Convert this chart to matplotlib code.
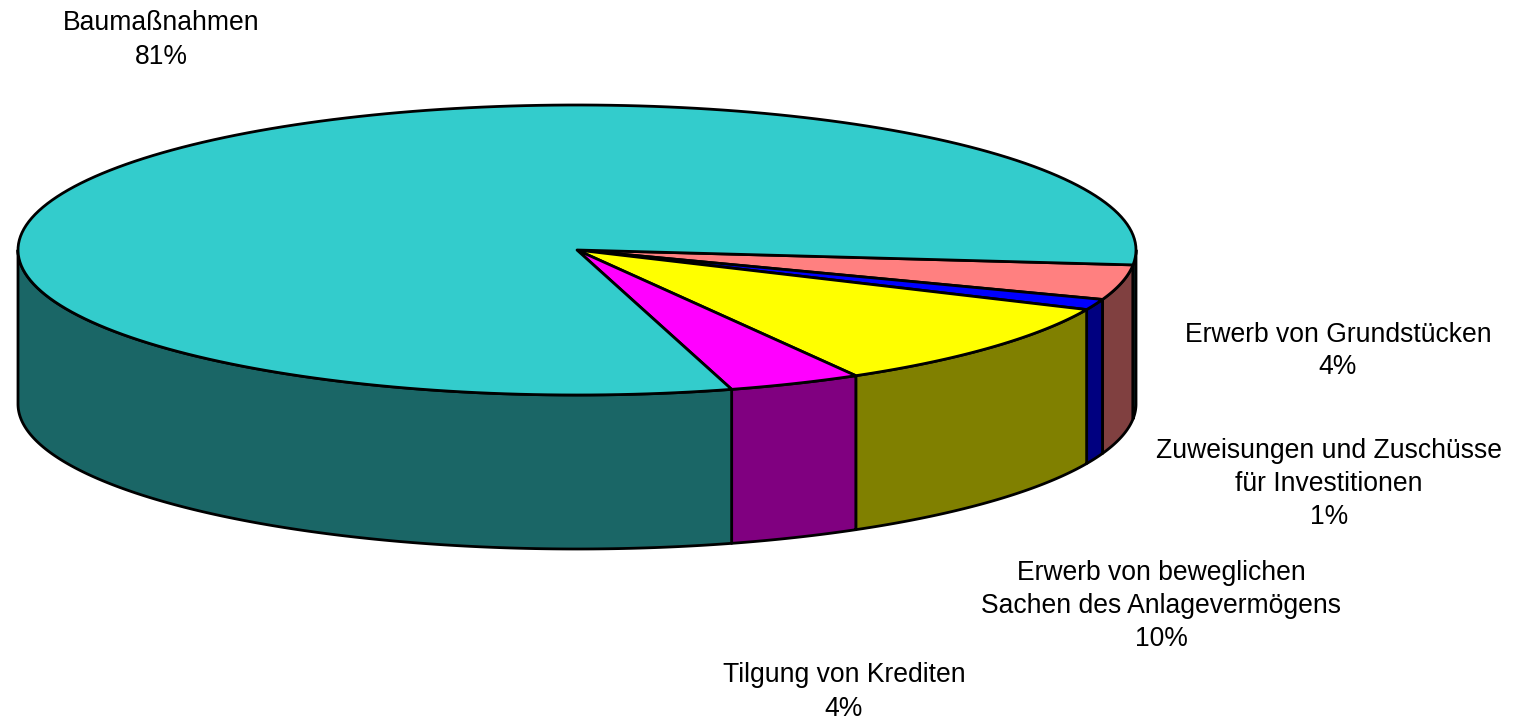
import numpy as np
import matplotlib
matplotlib.use("Agg")
import matplotlib.pyplot as plt
from matplotlib.patches import Polygon

# shares in drawing order, clockwise from the right edge of the pie
categories = [
    "Erwerb von Grundstücken\n4%",
    "Zuweisungen und Zuschüsse\nfür Investitionen\n1%",
    "Erwerb von beweglichen\nSachen des Anlagevermögens\n10%",
    "Tilgung von Krediten\n4%",
    "Baumaßnahmen\n81%",
]
shares = [3.9, 1.2, 9.95, 3.85, 81.1]
top_colors = ["#FF8080", "#0000FF", "#FFFF00", "#FF00FF", "#33CCCC"]
side_colors = ["#804040", "#000080", "#808000", "#800080", "#1A6666"]
label_pos = [(1338, 351), (1329, 484), (1161, 606), (844, 692), (161, 40)]

CX, CY = 577, 250
RX, RY = 559, 145
DEPTH = 154
START = 5.9

plt.rcParams["font.family"] = ["Liberation Sans", "DejaVu Sans"]

fig = plt.figure(figsize=(15.24, 7.2), dpi=100)
ax = fig.add_axes([0, 0, 1, 1])
ax.set_xlim(0, 1524)
ax.set_ylim(720, 0)
ax.axis("off")


def rim(a0, a1, dy=0):
    t = np.radians(np.linspace(a0, a1, 200))
    return np.column_stack((CX + RX * np.cos(t), CY + dy + RY * np.sin(t)))


# angle limits of every wedge, the big one wraps past the right edge
edges = START + np.concatenate(([0], np.cumsum(shares))) * 3.6

# side walls, only the front half of the pie shows them
for i in range(len(shares)):
    for a0, a1 in [(edges[i], edges[i + 1]), (edges[i] - 360, edges[i + 1] - 360)]:
        a0, a1 = max(a0, 0), min(a1, 180)
        if a1 <= a0:
            continue
        pts = np.vstack((rim(a0, a1), rim(a0, a1, DEPTH)[::-1]))
        ax.add_patch(Polygon(pts, closed=True, fc=side_colors[i], ec="black", lw=2.0, joinstyle="round"))

# top face
for i in range(len(shares)):
    pts = np.vstack(([[CX, CY]], rim(edges[i], edges[i + 1])))
    ax.add_patch(Polygon(pts, closed=True, fc=top_colors[i], ec="black", lw=2.0, joinstyle="round"))

for name, (x, y) in zip(categories, label_pos):
    ax.text(x, y, name, ha="center", va="center", fontsize=19.1, color="black", linespacing=1.35)

fig.savefig("out.png", dpi=100, facecolor="white")
